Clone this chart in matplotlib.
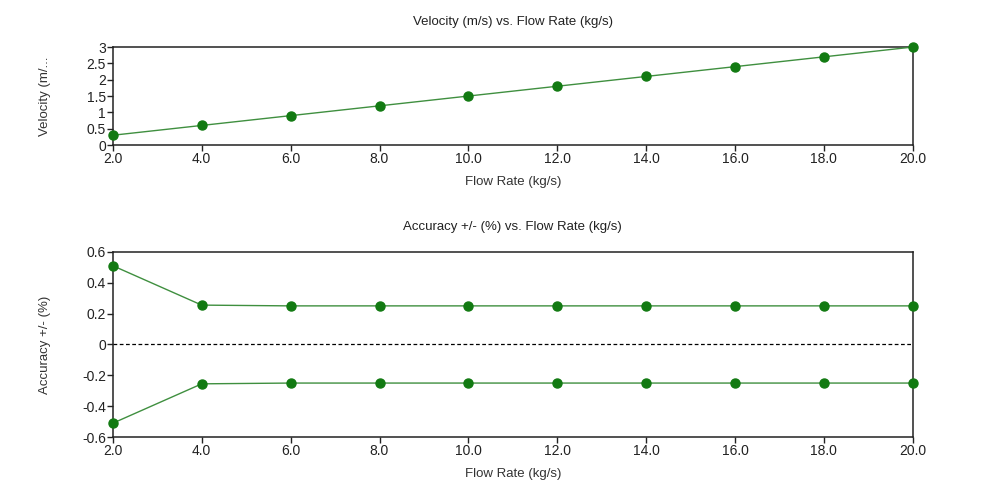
import numpy as np
import matplotlib.pyplot as plt
from matplotlib.ticker import FuncFormatter

plt.rcParams['font.family'] = ['Liberation Sans', 'DejaVu Sans']

flow = [2.0, 4.0, 6.0, 8.0, 10.0, 12.0, 14.0, 16.0, 18.0, 20.0]
velocity = [0.3, 0.6, 0.9, 1.2, 1.5, 1.8, 2.1, 2.4, 2.7, 3.0]
acc_upper = [0.51, 0.255, 0.25, 0.25, 0.25, 0.25, 0.25, 0.25, 0.25, 0.25]
acc_lower = [-0.51, -0.255, -0.25, -0.25, -0.25, -0.25, -0.25, -0.25, -0.25, -0.25]

line_col = '#3f8f3f'
mk_col = '#127a12'
fs = 9.5

fig = plt.figure(figsize=(9.9, 4.9), dpi=100)
ax1 = fig.add_axes([0.114, 0.704, 0.808, 0.200])
ax2 = fig.add_axes([0.114, 0.108, 0.808, 0.378])

fmt_y = FuncFormatter(lambda v, p: '%g' % round(v, 3))
fmt_x = FuncFormatter(lambda v, p: '%.1f' % v)

ax1.plot(flow, velocity, color=line_col, lw=1.0, marker='o', ms=6.5,
         mfc=mk_col, mec=mk_col, clip_on=False, zorder=3)
ax1.set_ylim(0, 3)
ax1.set_yticks(np.arange(0, 3.01, 0.5))
ax1.set_ylabel('Velocity (m/...', fontsize=fs, color='#333333')
ax1.set_title('Velocity (m/s) vs. Flow Rate (kg/s)', fontsize=fs, pad=16, color='#222222')

ax2.plot(flow, acc_upper, color=line_col, lw=1.0, marker='o', ms=6.5,
         mfc=mk_col, mec=mk_col, clip_on=False, zorder=3)
ax2.plot(flow, acc_lower, color=line_col, lw=1.0, marker='o', ms=6.5,
         mfc=mk_col, mec=mk_col, clip_on=False, zorder=3)
ax2.axhline(0, color='black', lw=0.9, ls=(0, (3, 2)))
ax2.set_ylim(-0.6, 0.6)
ax2.set_yticks(np.arange(-0.6, 0.61, 0.2))
ax2.set_ylabel('Accuracy +/- (%)', fontsize=fs, color='#333333')
ax2.set_title('Accuracy +/- (%) vs. Flow Rate (kg/s)', fontsize=fs, pad=16, color='#222222')

for ax in (ax1, ax2):
    ax.set_xlim(2, 20)
    ax.set_xticks(flow)
    ax.xaxis.set_major_formatter(fmt_x)
    ax.yaxis.set_major_formatter(fmt_y)
    ax.yaxis.set_label_coords(-0.077, 0.5)
    ax.set_xlabel('Flow Rate (kg/s)', fontsize=fs, color='#333333', labelpad=7.5)
    ax.tick_params(labelsize=fs + 0.5, length=4, width=1, direction='out',
                   pad=1, colors='#222222')
    for s in ax.spines.values():
        s.set_linewidth(1.1)
        s.set_color('#222222')

fig.savefig('out.png', dpi=100)
